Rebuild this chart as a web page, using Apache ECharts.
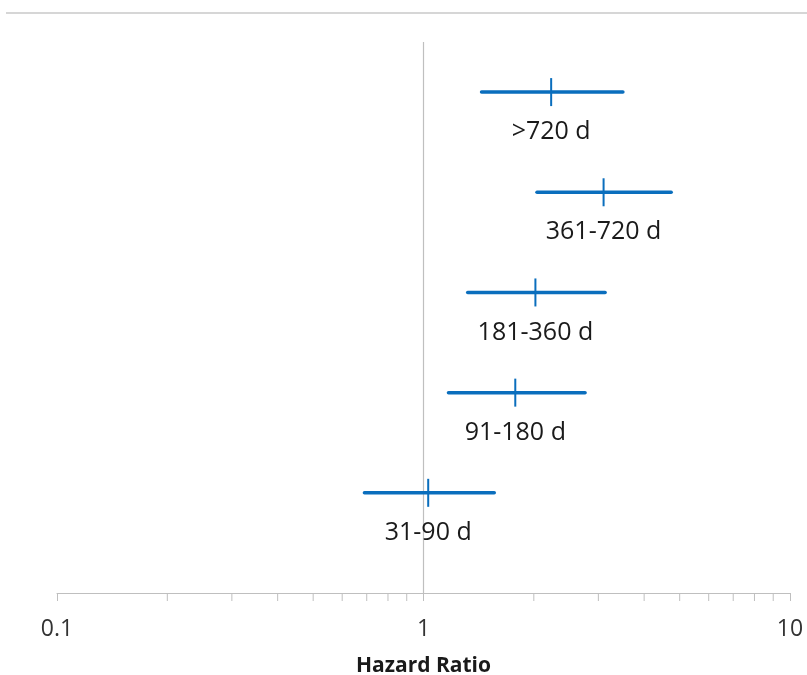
<!DOCTYPE html>
<html>
<head>
<meta charset="utf-8">
<script src="https://cdn.jsdelivr.net/npm/echarts@6/dist/echarts.min.js"></script>
<style>html,body{margin:0;padding:0;background:#fff;}#c{width:807px;height:675px;}</style>
</head>
<body>
<div id="c"></div>
<script>
// Data
const categories = ['31-90 d', '91-180 d', '181-360 d', '361-720 d', '>720 d'];
const hrPoint = [1.03, 1.78, 2.02, 3.10, 2.23];
const ciLower = [0.69, 1.17, 1.32, 2.04, 1.44];
const ciUpper = [1.56, 2.76, 3.13, 4.74, 3.50];
const rowPos = [1, 2, 3, 4, 5];
const minorTicks = [0.2, 0.3, 0.4, 0.5, 0.6, 0.7, 0.8, 0.9, 2, 3, 4, 5, 6, 7, 8, 9];
const refValue = 1;

const blue = '#0a6ebd';
const gray = '#bfbfbf';
const fontFam = '"Open Sans", "Noto Sans", sans-serif';

const barData = categories.map((c, i) => [hrPoint[i], rowPos[i], ciLower[i], ciUpper[i], c]);

const chart = echarts.init(document.getElementById('c'), null, {renderer: 'canvas'});
chart.setOption({
  animation: false,
  backgroundColor: '#fff',
  grid: {left: 57, right: 17, top: 42, bottom: 82, containLabel: false, outerBoundsMode: 'none'},
  xAxis: {
    type: 'log',
    logBase: 10,
    min: 0.1,
    max: 10,
    name: 'Hazard Ratio',
    nameLocation: 'middle',
    nameGap: 63,
    nameTextStyle: {fontFamily: fontFam, fontSize: 21, fontWeight: 'bold', color: '#1a1a1a'},
    axisLine: {show: true, lineStyle: {color: gray, width: 1}},
    axisTick: {show: true, inside: false, length: 8, lineStyle: {color: gray, width: 1}},
    axisLabel: {fontFamily: fontFam, fontSize: 23, color: '#333', margin: 25,
      formatter: v => String(Math.round(v * 10) / 10)},
    splitLine: {show: false}
  },
  yAxis: {
    type: 'value', min: 0, max: 5.5, show: false,
    splitLine: {show: false}
  },
  graphic: [{
    type: 'line', shape: {x1: 6, y1: 13, x2: 807, y2: 13},
    style: {stroke: '#c8c8c8', lineWidth: 1.5}
  }],
  series: [
    {
      type: 'line',
      data: [[refValue, 0], [refValue, 5.5]],
      symbol: 'none',
      lineStyle: {color: gray, width: 1.2},
      silent: true,
      z: 1
    },
    {
      type: 'custom',
      data: minorTicks.map(v => [v, 0]),
      clip: false,
      silent: true,
      renderItem: function (params, api) {
        const p = api.coord([api.value(0), api.value(1)]);
        return {type: 'line', shape: {x1: p[0], y1: p[1], x2: p[0], y2: p[1] + 8},
          style: {stroke: gray, lineWidth: 1}};
      },
      z: 2
    },
    {
      type: 'custom',
      data: barData,
      encode: {x: [0, 2, 3], y: 1},
      clip: false,
      renderItem: function (params, api) {
        const y = api.value(1);
        const p = api.coord([api.value(0), y]);
        const l = api.coord([api.value(2), y]);
        const h = api.coord([api.value(3), y]);
        const name = categories[params.dataIndex];
        return {
          type: 'group',
          children: [
            {type: 'line', shape: {x1: l[0], y1: l[1], x2: h[0], y2: h[1]},
              style: {stroke: blue, lineWidth: 3.5, lineCap: 'round'}},
            {type: 'line', shape: {x1: p[0], y1: p[1] - 14, x2: p[0], y2: p[1] + 14},
              style: {stroke: blue, lineWidth: 2}},
            {type: 'text', x: p[0], y: p[1] + 40,
              style: {text: name, fontFamily: fontFam, fontSize: 25, fill: '#1a1a1a',
                align: 'center', verticalAlign: 'middle'}}
          ]
        };
      },
      z: 3
    }
  ]
});
</script>
</body>
</html>
